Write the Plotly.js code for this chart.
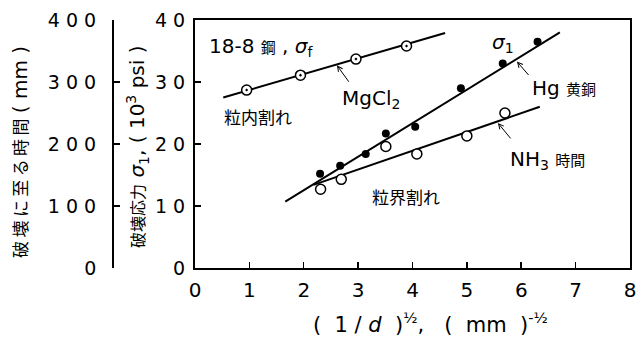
<!DOCTYPE html>
<html><head><meta charset="utf-8">
<script src="https://cdn.plot.ly/plotly-3.0.1.min.js"></script>
<style>html,body{margin:0;padding:0;background:#fff}</style>
</head><body>
<div id="chart" style="width:636px;height:340px"></div>
<script>
// ---- data ----
const mgX = [0.95, 1.94, 2.96, 3.89];
const mgY = [28.7, 31.1, 33.7, 35.8];
const mgLineX = [0.52, 4.60];
const mgLineY = [27.5, 37.9];

const hgX = [2.30, 2.67, 3.14, 3.51, 4.05, 4.89, 5.66, 6.30];
const hgY = [15.2, 16.5, 18.4, 21.7, 22.8, 29.0, 33.0, 36.5];
const hgLineX = [1.66, 6.71];
const hgLineY = [10.7, 38.0];

const nhX = [2.31, 2.69, 3.51, 4.08, 5.00, 5.70];
const nhY = [12.7, 14.3, 19.6, 18.4, 21.3, 25.0];
const nhLineX = [2.18, 6.34];
const nhLineY = [13.4, 26.0];

const xTicks = [0, 1, 2, 3, 4, 5, 6, 7, 8];
const yTicks = [0, 10, 20, 30, 40];
const yTickText = ['0', '1 0', '2 0', '3 0', '4 0'];
const y2Ticks = [0, 100, 200, 300, 400];
const y2TickText = ['0', '1 0 0', '2 0 0', '3 0 0', '4 0 0'];

const FONT = 'DejaVu Sans, Noto Sans CJK JP, sans-serif';
const JP = 'Noto Sans CJK JP, sans-serif';

const lineStyle = {color: '#000', width: 2};
const traces = [
  {x: mgLineX, y: mgLineY, mode: 'lines', line: lineStyle, hoverinfo: 'skip'},
  {x: hgLineX, y: hgLineY, mode: 'lines', line: lineStyle, hoverinfo: 'skip'},
  {x: nhLineX, y: nhLineY, mode: 'lines', line: lineStyle, hoverinfo: 'skip'},
  {x: mgX, y: mgY, mode: 'markers',
   marker: {symbol: 'circle-dot', size: 10, color: '#fff', line: {width: 1.5, color: '#000'}}},
  {x: hgX, y: hgY, mode: 'markers',
   marker: {symbol: 'circle', size: 8, color: '#000'}},
  {x: nhX, y: nhY, mode: 'markers',
   marker: {symbol: 'circle', size: 10, color: '#fff', line: {width: 1.5, color: '#000'}}},
  {x: [], y: [], yaxis: 'y2', mode: 'markers', hoverinfo: 'skip'}
];

const arrow = (x, y, ax, ay) => ({x, y, xref: 'x', yref: 'y', ax, ay, text: '', showarrow: true,
  arrowhead: 5, arrowsize: 1, arrowwidth: 1, arrowcolor: '#000'});
const txt = (x, y, text, size, extra) => Object.assign({x, y, xref: 'x', yref: 'y', text,
  showarrow: false, xanchor: 'left', yanchor: 'middle', font: {family: FONT, size: size, color: '#000'}}, extra || {});

const layout = {
  width: 636, height: 340,
  margin: {l: 0, r: 6, t: 20, b: 72},
  paper_bgcolor: '#fff', plot_bgcolor: '#fff',
  showlegend: false,
  font: {family: FONT, color: '#000'},
  xaxis: {
    domain: [0.3095, 1], range: [0, 8], tickvals: xTicks,
    ticks: 'inside', ticklen: 6, tickwidth: 1.5, tickcolor: '#000',
    showline: true, linewidth: 2, linecolor: '#000', mirror: true,
    showgrid: false, zeroline: false, tickfont: {size: 20, family: FONT},
    ticklabelstandoff: 3, ticklabeloverflow: 'allow'
  },
  yaxis: {
    range: [0, 40], tickvals: yTicks, ticktext: yTickText,
    ticks: 'inside', ticklen: 6, tickwidth: 1.5, tickcolor: '#000',
    showline: true, linewidth: 2, linecolor: '#000', mirror: true,
    showgrid: false, zeroline: false, tickfont: {size: 19, family: FONT},
    ticklabelstandoff: 4
  },
  yaxis2: {
    overlaying: 'y', anchor: 'free', position: 0.1794, side: 'left',
    range: [0, 400], tickvals: y2Ticks, ticktext: y2TickText,
    ticks: 'inside', ticklen: 6, tickwidth: 1.5, tickcolor: '#000',
    showline: true, linewidth: 2, linecolor: '#000',
    showgrid: false, zeroline: false, tickfont: {size: 19, family: FONT},
    ticklabelstandoff: 12
  },
  annotations: [
    arrow(2.61, 32.7, 13, 18),
    arrow(5.92, 33.3, 13, 15),
    arrow(5.57, 23.4, 14, 17),
    txt(0.22, 35.6, '18-8 <span style="font-size:15px">鋼</span> , <i>σ</i><sub>f</sub>', 20),
    txt(2.67, 27.3, 'MgCl<sub>2</sub>', 20),
    txt(0.50, 24.4, '粒内割れ', 17, {font: {family: JP, size: 17, color: '#000'}}),
    txt(5.43, 36.3, '<i>σ</i><sub>1</sub>', 20),
    txt(6.16, 29.0, 'Hg <span style="font-size:15px">黄銅</span>', 20),
    txt(5.76, 17.4, 'NH<sub>3</sub> <span style="font-size:15px">時間</span>', 20),
    txt(3.22, 11.5, '粒界割れ', 17, {font: {family: JP, size: 17, color: '#000'}}),
    {xref: 'paper', yref: 'paper', x: 0.219, y: 0.488, textangle: -90, showarrow: false,
     xanchor: 'center', yanchor: 'middle',
     text: '<span style="font-size:16px">破壊応力</span> <i>σ</i><sub>1</sub>, ( 10<sup>3</sup> psi )',
     font: {family: FONT, size: 20, color: '#000'}},
    {xref: 'paper', yref: 'paper', x: 0.0317, y: 0.468, textangle: -90, showarrow: false,
     xanchor: 'center', yanchor: 'middle',
     text: '破\u2009壊\u2009に\u2009至\u2009る\u2009時\u2009間 <span style="font-size:20px">( mm )</span>',
     font: {family: FONT, size: 17, color: '#000'}},
    {xref: 'paper', yref: 'paper', x: 0.683, y: -0.222, showarrow: false,
     xanchor: 'center', yanchor: 'middle',
     text: '(  1 / <i>d</i>  )<sup>½</sup>,   (  mm  )<sup>-½</sup>',
     font: {family: FONT, size: 21, color: '#000'}}
  ]
};

Plotly.newPlot('chart', traces, layout, {staticPlot: true, displayModeBar: false});
</script>
</body></html>
